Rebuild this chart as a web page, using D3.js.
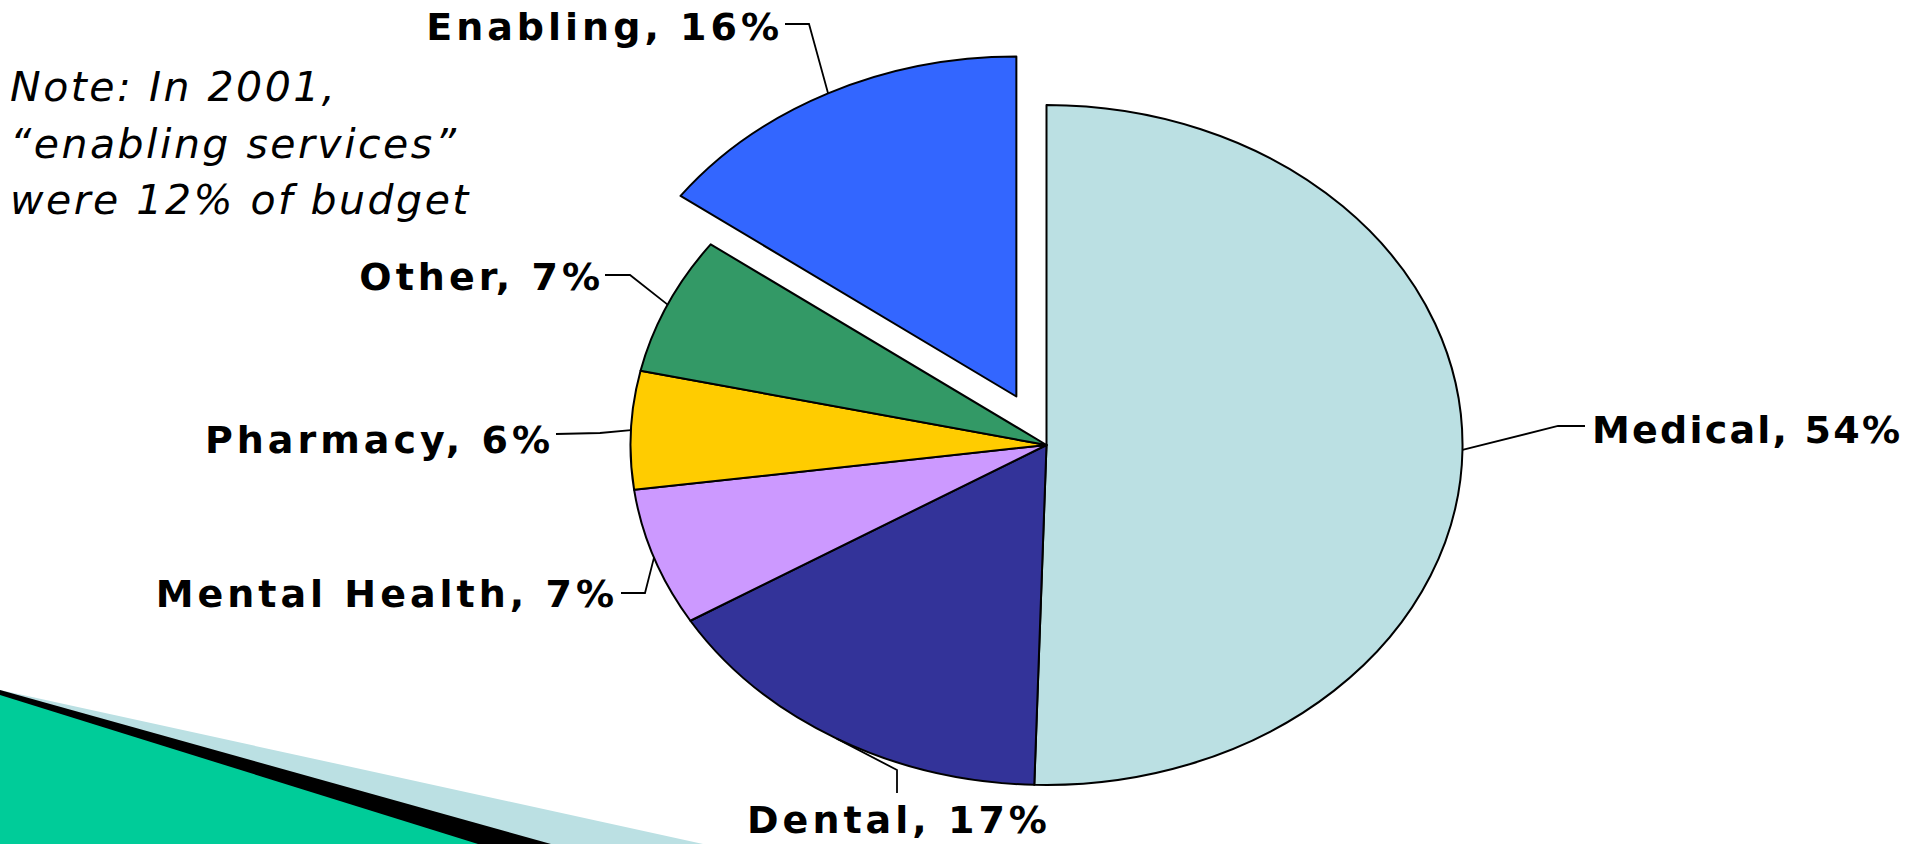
<!DOCTYPE html>
<html>
<head>
<meta charset="utf-8">
<script src="https://cdn.jsdelivr.net/npm/d3@7"></script>
<style>
  html, body { margin: 0; padding: 0; background: #ffffff; overflow: hidden; }
  svg { display: block; }
</style>
</head>
<body>
<script>
// ---------- data ----------
const categories = ["Medical", "Dental", "Mental Health", "Pharmacy", "Other", "Enabling"];
const values = [54, 17, 7, 6, 7, 16];
const colors = ["#BBE0E3", "#333399", "#CC99FF", "#FFCC00", "#339966", "#3366FF"];
const exploded = ["Enabling"];
const noteLines = ["Note: In 2001,", "\u201Cenabling services\u201D", "were 12% of budget"];

// ---------- layout ----------
const W = 1908, H = 844;
const cx = 1046.5, cy = 445, rx = 416, ry = 340;
const R = ry, sx = rx / ry;
const explodeFrac = 0.16;

// label layout: [elbow x, elbow y, end x, end y, text x, text y, anchor]
const labelLayout = {
  "Medical":       [1558, 426, 1585, 426, 1592, 443, "start"],
  "Dental":        [897, 770, 897, 793, 897, 833, "middle"],
  "Mental Health": [645, 593, 621, 593, 614, 607, "end"],
  "Pharmacy":      [600, 433, 556, 434, 550, 453, "end"],
  "Other":         [630, 275, 605, 275, 600, 290, "end"],
  "Enabling":      [809, 24, 785, 24, 779, 40, "end"]
};

const svg = d3.select("body").append("svg")
  .attr("width", W).attr("height", H)
  .style("background", "#ffffff");

// background slide decoration (bottom-left)
const deco = svg.append("g");
deco.append("polygon").attr("points", "0,690 703,844 0,844").attr("fill", "#BBE0E3");
deco.append("polygon").attr("points", "0,690 551,844 0,844").attr("fill", "#000000");
deco.append("polygon").attr("points", "0,695 478,844 0,844").attr("fill", "#00CC99");

// pie
const data = categories.map((c, i) => ({ name: c, value: values[i], color: colors[i] }));
const pie = d3.pie().value(d => d.value).sort(null).startAngle(0).endAngle(2 * Math.PI);
const arcs = pie(data);
const arc = d3.arc().innerRadius(0).outerRadius(R);

function offsetOf(a) {
  if (!exploded.includes(a.data.name)) return [0, 0];
  const m = (a.startAngle + a.endAngle) / 2;
  return [explodeFrac * R * Math.sin(m), -explodeFrac * R * Math.cos(m)];
}

const pieG = svg.append("g").attr("transform", `translate(${cx},${cy}) scale(${sx},1)`);
pieG.selectAll("path").data(arcs).enter().append("path")
  .attr("transform", a => { const o = offsetOf(a); return `translate(${o[0]},${o[1]})`; })
  .attr("d", arc)
  .attr("fill", a => a.data.color)
  .attr("stroke", "#000")
  .attr("stroke-width", 2)
  .attr("stroke-linejoin", "round")
  .attr("vector-effect", "non-scaling-stroke");

// leader lines and labels
const labG = svg.append("g");
const ls = 4;
arcs.forEach(a => {
  const m = (a.startAngle + a.endAngle) / 2;
  const o = offsetOf(a);
  const ax = cx + (o[0] + R * Math.sin(m)) * sx;
  const ay = cy + o[1] - R * Math.cos(m);
  const L = labelLayout[a.data.name];
  labG.append("path")
    .attr("d", d3.line()([[ax, ay], [L[0], L[1]], [L[2], L[3]]]))
    .attr("fill", "none").attr("stroke", "#000").attr("stroke-width", 1.8);
  const shift = L[6] === "end" ? ls : (L[6] === "middle" ? ls / 2 : 0);
  const t = labG.append("text")
    .attr("x", L[4] + shift).attr("y", L[5])
    .attr("text-anchor", L[6])
    .style("font-family", "'DejaVu Sans', Verdana, sans-serif")
    .style("font-weight", "bold")
    .style("font-size", "38px")
    .style("letter-spacing", ls + "px")
    .attr("fill", "#000")
    .text(`${a.data.name}, ${a.data.value}%`);
  // keep the label inside the picture: tighten spacing if it would run past the right edge
  const bb = t.node().getBBox();
  if (bb.x + bb.width > W - 4) {
    const n = t.text().length;
    const over = bb.x + bb.width - (W - 4);
    t.style("letter-spacing", Math.max(0, ls - over / (n - 1)) + "px");
  }
});

// note
const note = svg.append("text")
  .style("font-family", "'DejaVu Sans', Verdana, sans-serif")
  .style("font-style", "italic")
  .style("font-size", "41px")
  .style("letter-spacing", "2.5px")
  .attr("fill", "#000");
noteLines.forEach((t, i) => {
  note.append("tspan").attr("x", 10).attr("y", 101 + i * 56.5).text(t);
});
</script>
</body>
</html>
